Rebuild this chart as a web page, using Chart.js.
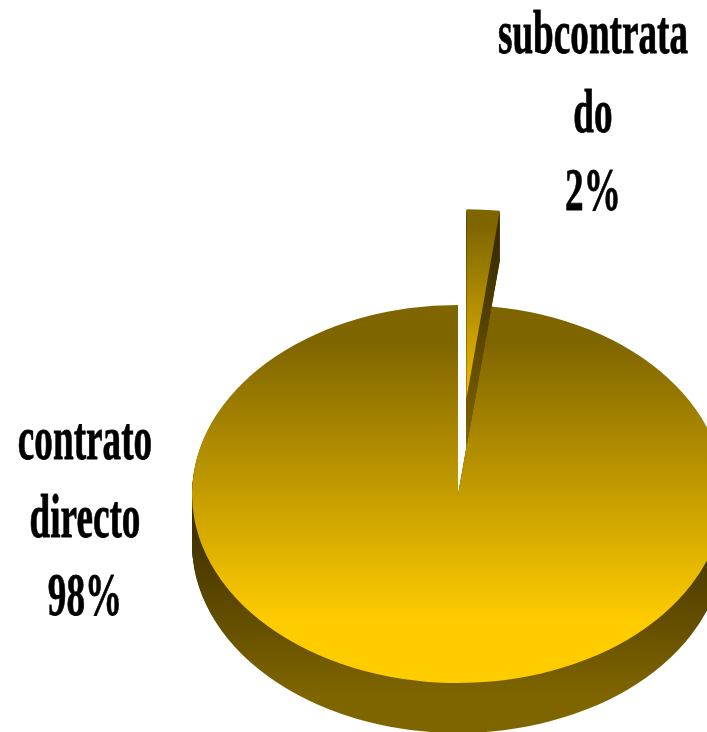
<!DOCTYPE html>
<html>
<head>
<meta charset="utf-8">
<style>
    html, body { margin: 0; padding: 0; background: #fff; overflow: hidden; }
    canvas { display: block; }
</style>
</head>
<body>
<canvas id="pieChart" width="707" height="732"></canvas>
<script src="https://cdn.jsdelivr.net/npm/chart.js@4"></script>
<script>
const categories = ['subcontratado', 'contrato directo'];
const values = [2, 98];
const labelLines = [['subcontrata', 'do'], ['contrato', 'directo']];

// 3d look: the flat pie is squashed around its centre and swept down
const centerY = 494;
const squash = 189 / 266;
const depth = 50;
const explodeDist = 135;
const explodedIndex = 0;

// device y range + colours for each gradient
const topFill = [
    { y0: 225, y1: 425, from: '#7f6500', to: '#ffcc00' },
    { y0: 342, y1: 622, from: '#7f6500', to: '#ffcc00' }
];
const wallFill = [
    { y0: 245, y1: 445, from: '#3a2c00', to: '#7f6500' },
    { y0: 510, y1: 695, from: '#3a2c00', to: '#7f6500' }
];

const labelPos = [
    { x: 593, y: [53, 132, 210] },
    { x: 85, y: [459, 537, 615] }
];

function deviceGradient(ctx, g) {
    // gradient has to stay fixed on the page whatever the transform is
    const inv = ctx.getTransform().inverse();
    const p0 = inv.transformPoint({ x: 0, y: g.y0 });
    const p1 = inv.transformPoint({ x: 0, y: g.y1 });
    const grad = ctx.createLinearGradient(p0.x, p0.y, p1.x, p1.y);
    grad.addColorStop(0, g.from);
    grad.addColorStop(1, g.to);
    return grad;
}

function drawArc(ctx, arc, midY, down, explode, fill) {
    ctx.save();
    ctx.translate(0, centerY + down);
    ctx.scale(1, squash);
    ctx.translate(0, -midY);
    if (explode) {
        const mid = (arc.startAngle + arc.endAngle) / 2;
        ctx.translate(Math.cos(mid) * explode, Math.sin(mid) * explode);
    }
    const copy = Object.create(arc);
    copy.options = Object.assign({}, arc.options, { backgroundColor: deviceGradient(ctx, fill) });
    copy.draw(ctx);
    ctx.restore();
}

const fakePie3d = {
    id: 'fakePie3d',
    beforeDatasetsDraw(chart) {
        const ctx = chart.ctx;
        const arcs = chart.getDatasetMeta(0).data;
        const midY = (chart.chartArea.top + chart.chartArea.bottom) / 2;
        // big slice first, the pulled out one sits on top of it
        [1, 0].forEach(i => {
            const explode = i === explodedIndex ? explodeDist : 0;
            for (let d = depth; d > 0; d--) {
                drawArc(ctx, arcs[i], midY, d, explode, wallFill[i]);
            }
            drawArc(ctx, arcs[i], midY, 0, explode, topFill[i]);
        });
        return false;
    },
    afterDraw(chart) {
        const ctx = chart.ctx;
        ctx.save();
        ctx.fillStyle = '#000';
        ctx.strokeStyle = '#000';
        ctx.lineWidth = 0.8;
        ctx.lineJoin = 'round';
        ctx.textAlign = 'center';
        ctx.textBaseline = 'alphabetic';
        ctx.font = 'bold 62px "Liberation Serif"';
        labelLines.forEach((lines, i) => {
            const rows = lines.concat(values[i] + '%');
            rows.forEach((row, r) => {
                ctx.save();
                ctx.translate(labelPos[i].x, labelPos[i].y[r]);
                ctx.scale(0.6, 1);
                ctx.strokeText(row, 0, 0);
                ctx.fillText(row, 0, 0);
                ctx.restore();
            });
        });
        ctx.restore();
    }
};

new Chart(document.getElementById('pieChart'), {
    type: 'pie',
    data: {
        labels: categories,
        datasets: [{
            data: values,
            backgroundColor: ['#7f6500', '#ffcc00'],
            borderWidth: 0
        }]
    },
    options: {
        responsive: false,
        animation: false,
        radius: 266,
        layout: { padding: { left: 209 } },
        plugins: {
            legend: { display: false },
            tooltip: { enabled: false }
        }
    },
    plugins: [fakePie3d]
});
</script>
</body>
</html>
